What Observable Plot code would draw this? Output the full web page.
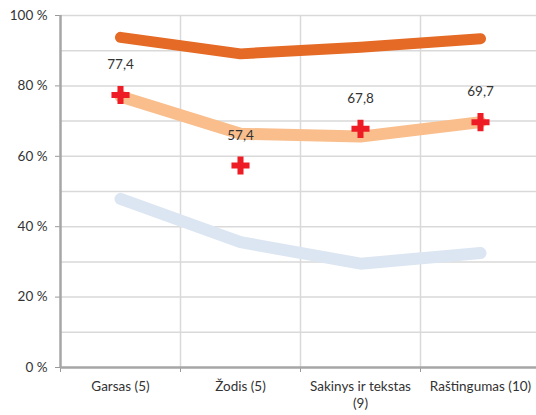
<!DOCTYPE html>
<html><head><meta charset="utf-8">
<script src="https://cdn.jsdelivr.net/npm/d3@7"></script>
<script src="https://cdn.jsdelivr.net/npm/@observablehq/plot@0.6"></script>
<style>body{margin:0;background:#fff;} svg{display:block;}</style>
</head><body><div id="chart"></div>
<script>
const categories = ["Garsas (5)", "Žodis (5)", "Sakinys ir tekstas\n(9)", "Raštingumas (10)"];
const seriesHigh = [93.8, 89.1, 91.0, 93.4];
const seriesMid = [77.0, 66.4, 65.6, 69.7];
const seriesLow = [47.9, 35.6, 29.5, 32.5];
const markerValues = [77.4, 57.4, 67.8, 69.7];
const markerLabels = ["77,4", "57,4", "67,8", "69,7"];
const yTicks = [0, 20, 40, 60, 80, 100];
const yGrid = [10, 20, 30, 40, 50, 60, 70, 80, 90, 100];

const pos = categories.map((c, i) => i + 0.5);
const mk = (vals) => vals.map((v, i) => ({x: pos[i], y: v}));
const font = "Lato, 'Open Sans', sans-serif";

const chart = Plot.plot({
  width: 536, height: 415,
  marginLeft: 60, marginTop: 15, marginBottom: 48, marginRight: 0,
  style: {fontFamily: font, fontSize: "13.5px", color: "#333"},
  x: {type: "linear", domain: [0, 4], range: [60, 540]},
  y: {domain: [0, 100]},
  marks: [
    Plot.gridY(yGrid, {stroke: "#d9d9d9", strokeOpacity: 1, strokeWidth: 1.5}),
    Plot.gridX([1, 2, 3, 4], {stroke: "#d9d9d9", strokeOpacity: 1, strokeWidth: 1.5}),
    Plot.axisY(yTicks, {tickFormat: d => d + " %", tickSize: 5, stroke: "#999", tickPadding: 8, fontSize: 13.5, label: null}),
    Plot.axisX([0, 1, 2, 3, 4], {tickFormat: () => "", tickSize: 5, stroke: "#999", label: null}),
    Plot.axisX(pos, {tickFormat: (d, i) => categories[i], tickSize: 0, tickPadding: 12, fontSize: 13.5, label: null, lineHeight: 1.25}),
    Plot.ruleX([0], {stroke: "#a6a6a6", strokeWidth: 2.5}),
    Plot.ruleY([0], {stroke: "#a6a6a6", strokeWidth: 2.5}),
    Plot.line(mk(seriesLow), {x: "x", y: "y", stroke: "#dce6f2", strokeWidth: 12, strokeLinecap: "round", strokeLinejoin: "round"}),
    Plot.line(mk(seriesMid), {x: "x", y: "y", stroke: "#f9be8c", strokeWidth: 12, strokeLinecap: "round", strokeLinejoin: "round"}),
    Plot.line(mk(seriesHigh), {x: "x", y: "y", stroke: "#e46a25", strokeWidth: 11, strokeLinecap: "round", strokeLinejoin: "round"}),
    Plot.dot(mk(markerValues), {x: "x", y: "y", symbol: "cross", r: 7.6, fill: "#ee1d25", stroke: "none"}),
    Plot.text(markerValues.map((v, i) => ({x: pos[i], y: v, t: markerLabels[i]})), {x: "x", y: "y", text: "t", dy: -30, fontSize: 13.5, fill: "#333"})
  ]
});
document.getElementById("chart").appendChild(chart);
</script></body></html>
